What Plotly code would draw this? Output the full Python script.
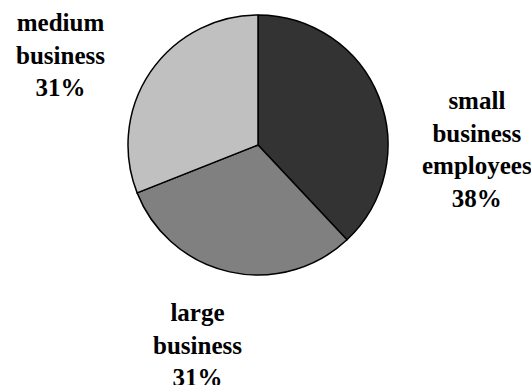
import plotly.graph_objects as go

labels = ["small business employees", "large business", "medium business"]
label_lines = [["small", "business", "employees"], ["large", "business"], ["medium", "business"]]
values = [38, 31, 31]
colors = ["#333333", "#808080", "#c0c0c0"]

W, H = 531, 385
cx, cy, r = 258, 145, 130

fig = go.Figure(go.Pie(
    labels=labels, values=values, sort=False, direction="clockwise", rotation=0,
    marker=dict(colors=colors, line=dict(color="black", width=1.5)),
    textinfo="none", hoverinfo="label+percent", showlegend=False,
    domain=dict(x=[(cx - r) / W, (cx + r) / W], y=[(H - cy - r) / H, (H - cy + r) / H]),
))

# label anchor positions (pixels from top-left)
label_pos = [(477, 149), (197, 345), (60, 55)]
total = sum(values)
for lines, v, (px, py) in zip(label_lines, values, label_pos):
    txt = "<br>".join(lines + [f"{round(100 * v / total)}%"])
    fig.add_annotation(
        x=px / W, y=1 - py / H, xref="paper", yref="paper", text=txt,
        showarrow=False, xanchor="center", yanchor="middle", align="center",
        font=dict(family="Times New Roman", size=25, color="black", weight="bold"),
    )

fig.update_layout(
    width=W, height=H, margin=dict(l=0, r=0, t=0, b=0),
    paper_bgcolor="white", plot_bgcolor="white",
)
fig.write_html("out.html")
